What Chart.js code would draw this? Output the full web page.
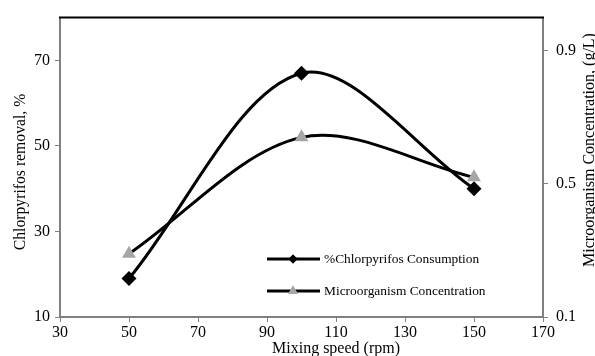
<!DOCTYPE html>
<html>
<head>
<meta charset="utf-8">
<script src="https://cdn.jsdelivr.net/npm/chart.js@4"></script>
<style>
  html, body { margin: 0; padding: 0; background: #fff; }
  #wrap { width: 595px; height: 356px; position: relative; }
</style>
</head>
<body>
<div id="wrap"><canvas id="chart"></canvas></div>
<script>
// data
const speeds = [50, 100, 150];
const chlorpyrifos = [19, 67, 40];
const microorganism = [0.29, 0.64, 0.52];

const xTicks = [30, 50, 70, 90, 110, 130, 150, 170];
const leftTicks = [10, 30, 50, 70];
const rightTicks = [0.1, 0.5, 0.9];

const seriesNames = ['%Chlorpyrifos Consumption', 'Microorganism Concentration'];
const xTitle = 'Mixing speed (rpm)';
const leftTitle = 'Chlorpyrifos removal, %';
const rightTitle = 'Microorganism Concentration, (g/L)';

const serif = 'Liberation Serif';
const axisGray = '#808080';

const fixTicks = (list) => (scale) => {
  scale.ticks = list.map(v => ({ value: v }));
};

// legend, plot top border and axis titles, drawn like the original
const extras = {
  id: 'extras',
  afterDraw(chart) {
    const ctx = chart.ctx;
    const { left, right, top } = chart.chartArea;
    ctx.save();
    ctx.strokeStyle = '#000';
    ctx.lineWidth = 2;
    ctx.beginPath();
    ctx.moveTo(left - 1, top);
    ctx.lineTo(right + 1, top);
    ctx.stroke();

    const rows = [
      { y: 259, style: 'rectRot', color: '#000', r: 4.5 },
      { y: 291, style: 'triangle', color: '#a6a6a6', r: 5.5 }
    ];
    rows.forEach((row, i) => {
      ctx.strokeStyle = '#000';
      ctx.lineWidth = 3;
      ctx.beginPath();
      ctx.moveTo(267, row.y);
      ctx.lineTo(320, row.y);
      ctx.stroke();
      ctx.fillStyle = row.color;
      Chart.helpers.drawPoint(ctx, { pointStyle: row.style, radius: row.r, borderWidth: 0 }, 293, row.y);
      ctx.fill();
      ctx.fillStyle = '#000';
      ctx.font = '13.4px "' + serif + '"';
      ctx.textAlign = 'left';
      ctx.textBaseline = 'middle';
      ctx.fillText(seriesNames[i], 324, row.y);
    });

    ctx.fillStyle = '#000';
    ctx.font = '16px "' + serif + '"';
    ctx.textAlign = 'center';
    ctx.textBaseline = 'middle';
    ctx.fillText(xTitle, 336, 349);

    ctx.save();
    ctx.translate(21, 172);
    ctx.rotate(-Math.PI / 2);
    ctx.font = '15.7px "' + serif + '"';
    ctx.fillText(leftTitle, 0, 0);
    ctx.restore();

    ctx.save();
    ctx.translate(590, 150);
    ctx.rotate(-Math.PI / 2);
    ctx.fillText(rightTitle, 0, 0);
    ctx.restore();
    ctx.restore();
  }
};

const pts = (ys) => speeds.map((x, i) => ({ x: x, y: ys[i] }));

const tickFont = { family: serif, size: 16 };

new Chart(document.getElementById('chart'), {
  type: 'line',
  data: {
    datasets: [
      {
        label: seriesNames[0],
        data: pts(chlorpyrifos),
        yAxisID: 'y',
        borderColor: '#000',
        borderWidth: 3,
        tension: 0.33,
        pointStyle: 'rectRot',
        pointRadius: 7.5,
        pointBackgroundColor: '#000',
        pointBorderColor: '#000',
        pointBorderWidth: 0
      },
      {
        label: seriesNames[1],
        data: pts(microorganism),
        yAxisID: 'y1',
        borderColor: '#000',
        borderWidth: 3,
        tension: 0.33,
        pointStyle: 'triangle',
        pointRadius: 8,
        pointBackgroundColor: '#a6a6a6',
        pointBorderColor: '#a6a6a6',
        pointBorderWidth: 0
      }
    ]
  },
  options: {
    responsive: true,
    maintainAspectRatio: false,
    animation: false,
    layout: { padding: { top: 15, left: 0, right: 0, bottom: 0 } },
    plugins: {
      legend: { display: false },
      tooltip: { enabled: false }
    },
    scales: {
      x: {
        type: 'linear',
        min: 30,
        max: 170,
        afterBuildTicks: fixTicks(xTicks),
        afterFit: (s) => { s.height = 39; },
        border: { color: axisGray, width: 2 },
        grid: { drawOnChartArea: false, color: axisGray, tickLength: 5 },
        ticks: { color: '#000', padding: 1, maxRotation: 0, font: tickFont }
      },
      y: {
        type: 'linear',
        position: 'left',
        min: 10,
        max: 80,
        afterBuildTicks: fixTicks(leftTicks),
        afterFit: (s) => { s.width = 60; },
        border: { color: axisGray, width: 2 },
        grid: { drawOnChartArea: false, color: axisGray, tickLength: 5 },
        ticks: { color: '#000', padding: 5, font: tickFont }
      },
      y1: {
        type: 'linear',
        position: 'right',
        min: 0.1,
        max: 1.0,
        afterBuildTicks: fixTicks(rightTicks),
        afterFit: (s) => { s.width = 52; },
        border: { color: axisGray, width: 2 },
        grid: { drawOnChartArea: false, color: axisGray, tickLength: 5 },
        ticks: { color: '#000', padding: 8, font: tickFont }
      }
    }
  },
  plugins: [extras]
});
</script>
</body>
</html>
